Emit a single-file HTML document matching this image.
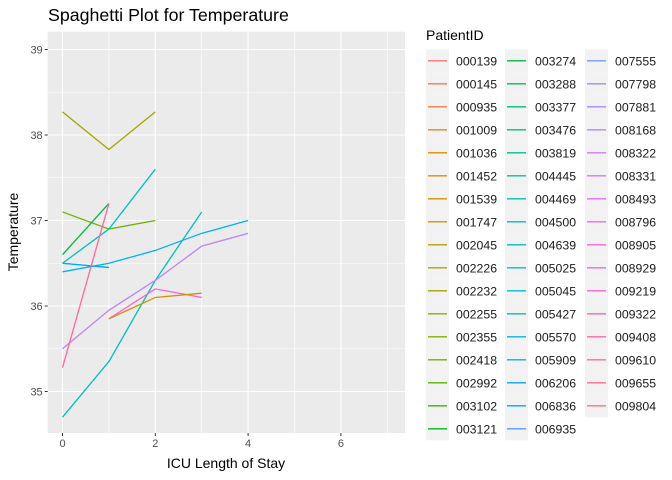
<!DOCTYPE html>
<html><head><meta charset="utf-8"><style>
body{margin:0;background:#fff;}
svg{display:block;font-family:"Liberation Sans",Arial,sans-serif;}
</style></head><body>
<svg id="chart" width="672" height="480" viewBox="0 0 672 480">
<rect width="672" height="480" fill="#fff"/>
<text x="48" y="21" font-size="17.8" fill="#000">Spaghetti Plot for Temperature</text>
<rect x="47.7" y="31.7" width="357.3" height="401.3" fill="#EBEBEB"/>
<g id="grid"></g>
<g id="lines"></g>
<g id="axes"></g>
<text x="226" y="468" font-size="14" text-anchor="middle" fill="#000">ICU Length of Stay</text>
<text transform="translate(18,232) rotate(-90)" font-size="14" text-anchor="middle" fill="#000">Temperature</text>
<text x="426" y="40" font-size="14" fill="#000">PatientID</text>
<g id="legend"></g>
</svg>
<script>
const patients = ["000139","000145","000935","001009","001036","001452","001539","001747","002045","002226","002232","002255","002355","002418","002992","003102","003121","003274","003288","003377","003476","003819","004445","004469","004500","004639","005025","005045","005427","005570","005909","006206","006836","006935","007555","007798","007881","008168","008322","008331","008493","008796","008905","008929","009219","009322","009408","009610","009655","009804"];
const seriesIds = ["002232","002418","003274","004639","004500","005025","005909","006206","008168","008905","001539","009610"];
const seriesX = [[0,1,2],[0,1,2],[0,1],[0,1,2],[0,1,2,3],[0,1],[0,1,2,3,4],[0,1],[0,1,2,3,4],[1,2,3],[1,2,3],[0,1]];
const seriesY = [[38.27,37.83,38.27],[37.1,36.9,37.0],[36.6,37.2],[36.5,36.9,37.6],[34.7,35.35,36.3,37.1],[36.5,36.45],[36.4,36.5,36.65,36.85,37.0],[36.5,36.45],[35.5,35.95,36.3,36.7,36.85],[35.85,36.2,36.1],[35.85,36.1,36.15],[35.28,37.2]];
const xTicks = [0,2,4,6];
const yTicks = [35,36,37,38,39];

const NS="http://www.w3.org/2000/svg";
const PL=47.7,PR=405,PT=31.7,PB=433;
function sx(v){return 62.5+v*46.4;}
function sy(v){return 391.5-(v-35)*85.5;}
function hcl(h){
  const L=65,C=100,r=h*Math.PI/180,u=C*Math.cos(r),v=C*Math.sin(r);
  const Xn=95.047,Yn=100,Zn=108.883,d=Xn+15*Yn+3*Zn,un=4*Xn/d,vn=9*Yn/d;
  const Y=Math.pow((L+16)/116,3),up=u/(13*L)+un,vp=v/(13*L)+vn;
  const X=9*Y*up/(4*vp),Z=Y*(12-3*up-20*vp)/(4*vp);
  let rgb=[3.2406*X-1.5372*Y-0.4986*Z,-0.9689*X+1.8758*Y+0.0415*Z,0.0557*X-0.2040*Y+1.0570*Z];
  rgb=rgb.map(c=>{c=c<=0.0031308?12.92*c:1.055*Math.pow(c,1/2.4)-0.055;return Math.round(Math.max(0,Math.min(1,c))*255);});
  return "rgb("+rgb.join(",")+")";
}
function colorOf(id){const i=patients.indexOf(id);return hcl(15+360*i/patients.length);}
function mk(tag,attrs,parent){const e=document.createElementNS(NS,tag);for(const k in attrs)e.setAttribute(k,attrs[k]);parent.appendChild(e);return e;}
const grid=document.getElementById('grid');
[35.5,36.5,37.5,38.5].forEach(v=>{const l=mk('line',{x1:PL,x2:PR,y1:sy(v),y2:sy(v),stroke:'#fff','stroke-width':0.6},grid);

});
[1,3,5,7].forEach(v=>{const l=mk('line',{x1:sx(v),x2:sx(v),y1:PT,y2:PB,stroke:'#fff','stroke-width':0.6},grid);

});
const axes=document.getElementById('axes');
yTicks.forEach(v=>{const l=mk('line',{x1:PL,x2:PR,y1:sy(v),y2:sy(v),stroke:'#fff','stroke-width':1.1},grid);


const t=mk('line',{x1:PL-3,x2:PL,y1:sy(v),y2:sy(v),stroke:'#333','stroke-width':1},axes);


const tx=mk('text',{x:PL-5,y:sy(v)+4,'font-size':11,'text-anchor':'end',fill:'#4D4D4D'},axes);tx.textContent=v;

});
xTicks.forEach(v=>{const l=mk('line',{x1:sx(v),x2:sx(v),y1:PT,y2:PB,stroke:'#fff','stroke-width':1.1},grid);


const t=mk('line',{x1:sx(v),x2:sx(v),y1:PB,y2:PB+3,stroke:'#333','stroke-width':1},axes);


const tx=mk('text',{x:sx(v),y:PB+14,'font-size':11,'text-anchor':'middle',fill:'#4D4D4D'},axes);tx.textContent=v;

});
const lines=document.getElementById('lines');
seriesIds.forEach((id,k)=>{const pts=seriesX[k].map((x,j)=>sx(x)+","+sy(seriesY[k][j])).join(" ");
const p=mk('polyline',{points:pts,fill:'none',stroke:colorOf(id),'stroke-width':1.3},lines);

});
const legend=document.getElementById('legend');
const colX=[426,505,585];
patients.forEach((id,i)=>{const c=Math.floor(i/17),r=i%17;const y=49.3+r*23;
const bg=mk('rect',{x:colX[c],y:y,width:23,height:23,fill:'#F2F2F2'},legend);


const ln=mk('line',{x1:colX[c]+2,x2:colX[c]+21,y1:y+11.5,y2:y+11.5,stroke:colorOf(id),'stroke-width':1.3},legend);


const tx=mk('text',{x:colX[c]+30,y:y+16,'font-size':12.3,fill:'#1A1A1A'},legend);tx.textContent=id;

});
</script>
</body></html>
